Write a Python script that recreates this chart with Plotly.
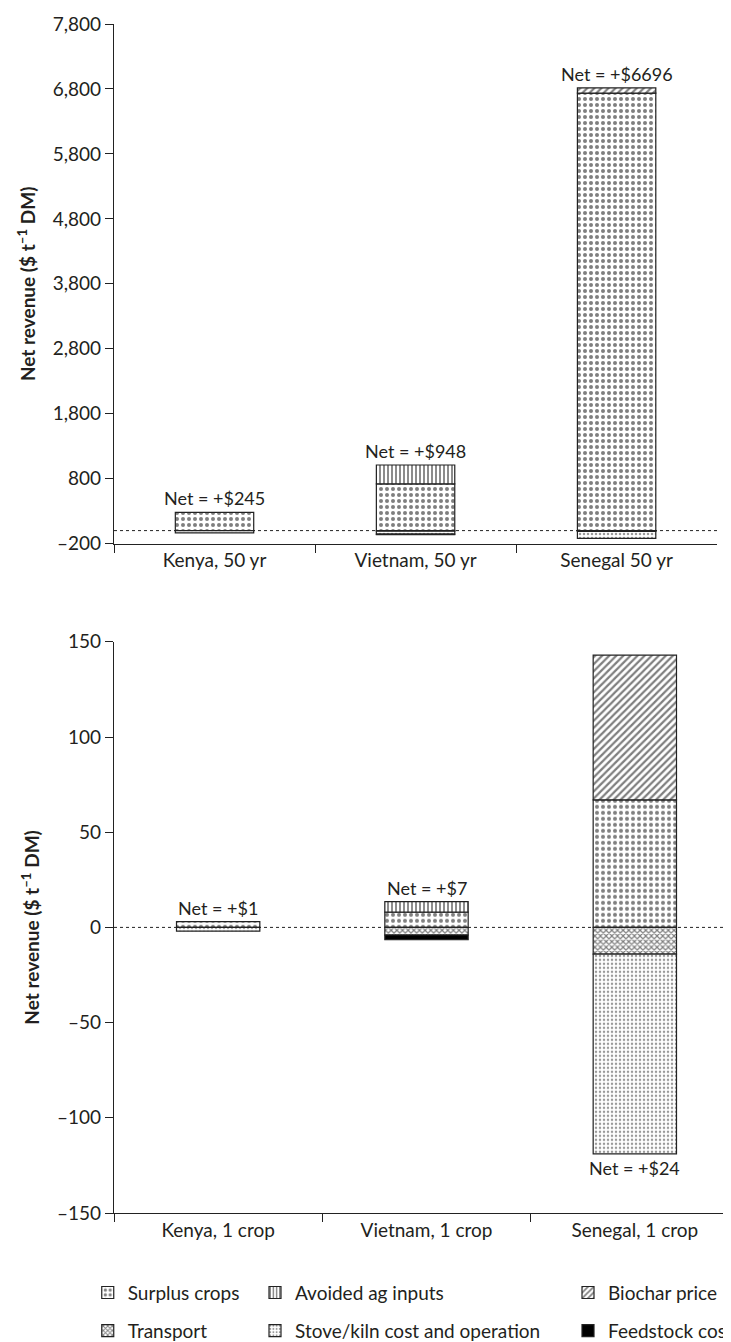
import plotly.graph_objects as go

# ---------------- data ----------------
categories_50 = ["Kenya, 50 yr", "Vietnam, 50 yr", "Senegal 50 yr"]
categories_1 = ["Kenya, 1 crop", "Vietnam, 1 crop", "Senegal, 1 crop"]

components = ["Surplus crops", "Avoided ag inputs", "Biochar price",
              "Transport", "Stove/kiln cost and operation", "Feedstock cost"]

# 50-year values ($ t-1 DM); None = component absent
surplus_50 = [280, 720, 6737]
avoided_50 = [None, 290, None]
biochar_50 = [None, None, 78]
transport_50 = [None, -10, -14]
stove_50 = [-35, -45, -105]
feedstock_50 = [None, -7, None]
net_50 = [245, 948, 6696]

# single-crop values ($ t-1 DM)
surplus_1 = [3, 8, 67]
avoided_1 = [None, 5.5, None]
biochar_1 = [None, None, 76]
transport_1 = [None, -4, -14]
stove_1 = [-2, None, -105]
feedstock_1 = [None, -2.5, None]
net_1 = [1, 7, 24]

yticks_50 = [-200, 800, 1800, 2800, 3800, 4800, 5800, 6800, 7800]
yticks_1 = [-150, -100, -50, 0, 50, 100, 150]

# ---------------- styling ----------------
FONT = "Lato"
TXT = "#231f20"
FS = 19
patterns = {
    "Surplus crops": dict(shape=".", size=6, solidity=0.35, fgcolor="black", bgcolor="white"),
    "Avoided ag inputs": dict(shape="|", size=4, solidity=0.45, fgcolor="black", bgcolor="white"),
    "Biochar price": dict(shape="/", size=5, solidity=0.45, fgcolor="black", bgcolor="white"),
    "Transport": dict(shape="x", size=4, solidity=0.5, fgcolor="black", bgcolor="white"),
    "Stove/kiln cost and operation": dict(shape=".", size=4, solidity=0.3, fgcolor="#333", bgcolor="white"),
    "Feedstock cost": None,
}

series_50 = [surplus_50, avoided_50, biochar_50, transport_50, stove_50, feedstock_50]
series_1 = [surplus_1, avoided_1, biochar_1, transport_1, stove_1, feedstock_1]

fig = go.Figure()
legend_ids = ["legend", "legend2", "legend3", "legend4", "legend5", "legend6"]

for i, name in enumerate(components):
    pat = patterns[name]
    marker = dict(color="white" if pat else "black",
                  line=dict(color="#222", width=1.2))
    if pat:
        marker["pattern"] = pat
    fig.add_trace(go.Bar(x=categories_50, y=series_50[i], name=name, marker=marker,
                         width=0.39, xaxis="x", yaxis="y", showlegend=False,
                         legendgroup=name))
    fig.add_trace(go.Bar(x=categories_1, y=series_1[i], name=name, marker=marker,
                         width=0.40, xaxis="x2", yaxis="y2", showlegend=True,
                         legendgroup=name, legend=legend_ids[i]))


def fmt(v):
    s = f"{v:,}"
    return s.replace("-", "\u2013")


def stack_extent(series, j):
    pos = sum(s[j] for s in series if s[j] is not None and s[j] > 0)
    neg = sum(s[j] for s in series if s[j] is not None and s[j] < 0)
    return pos, neg


annotations = []
for j, c in enumerate(categories_50):
    pos, neg = stack_extent(series_50, j)
    annotations.append(dict(x=c, y=pos, xref="x", yref="y", text=f"Net = +${net_50[j]}",
                            showarrow=False, yanchor="bottom", yshift=1,
                            font=dict(size=18, color=TXT, family=FONT)))
for j, c in enumerate(categories_1):
    pos, neg = stack_extent(series_1, j)
    below = net_1[j] == max(net_1)
    annotations.append(dict(x=c, y=neg if below else pos, xref="x2", yref="y2",
                            text=f"Net = +${net_1[j]}", showarrow=False,
                            yanchor="top" if below else "bottom",
                            yshift=-1 if below else 1,
                            font=dict(size=18, color=TXT, family=FONT)))

ytitle = "<b>Net revenue ($ t<sup>\u20131</sup> DM)</b>"

axis_common = dict(showline=True, linecolor="#222", linewidth=1.2, ticks="outside",
                   tickcolor="#222", tickwidth=1.2, ticklen=8, showgrid=False,
                   zeroline=False, tickfont=dict(size=FS, color=TXT, family=FONT))

fig.update_layout(
    width=731, height=1342,
    margin=dict(l=106, r=0, t=16, b=127),
    paper_bgcolor="white", plot_bgcolor="white",
    barmode="relative",
    font=dict(family=FONT, color=TXT, size=FS),
    xaxis=dict(domain=[0, 0.965], anchor="y", type="category", tickson="boundaries",
               **axis_common),
    yaxis=dict(domain=[0.563, 1.0], anchor="x", range=[-200, 7800],
               tickvals=yticks_50, ticktext=[fmt(v) for v in yticks_50],
               title=dict(text=ytitle, font=dict(size=FS, color=TXT, family=FONT), standoff=12),
               **axis_common),
    xaxis2=dict(domain=[0, 1.0], anchor="y2", type="category", tickson="boundaries",
                **axis_common),
    yaxis2=dict(domain=[0, 0.4804], anchor="x2", range=[-150, 150],
                tickvals=yticks_1, ticktext=[fmt(v) for v in yticks_1],
                title=dict(text=ytitle, font=dict(size=FS, color=TXT, family=FONT), standoff=12),
                **axis_common),
    annotations=annotations,
    shapes=[
        dict(type="line", xref="x domain", yref="y", x0=0, x1=1, y0=0, y1=0,
             line=dict(color="#222", width=1, dash="dot"), layer="below"),
        dict(type="line", xref="x2 domain", yref="y2", x0=0, x1=1, y0=0, y1=0,
             line=dict(color="#222", width=1, dash="dot"), layer="below"),
    ],
)

# six single-item legends laid out as a 3 x 2 grid
col_x = [-0.042, 0.2256, 0.7264]
row_y = [-0.051, -0.083]
legend_pos = [(0, 0), (1, 0), (2, 0), (0, 1), (1, 1), (2, 1)]
for i, lid in enumerate(legend_ids):
    cx, ry = legend_pos[i]
    fig.update_layout(**{lid: dict(x=col_x[cx], y=row_y[ry], xanchor="left", yanchor="top",
                                   orientation="v", itemwidth=30, bgcolor="rgba(0,0,0,0)",
                                   font=dict(size=FS, color=TXT, family=FONT),
                                   itemclick=False, itemdoubleclick=False)})

fig.write_html("out.html")
